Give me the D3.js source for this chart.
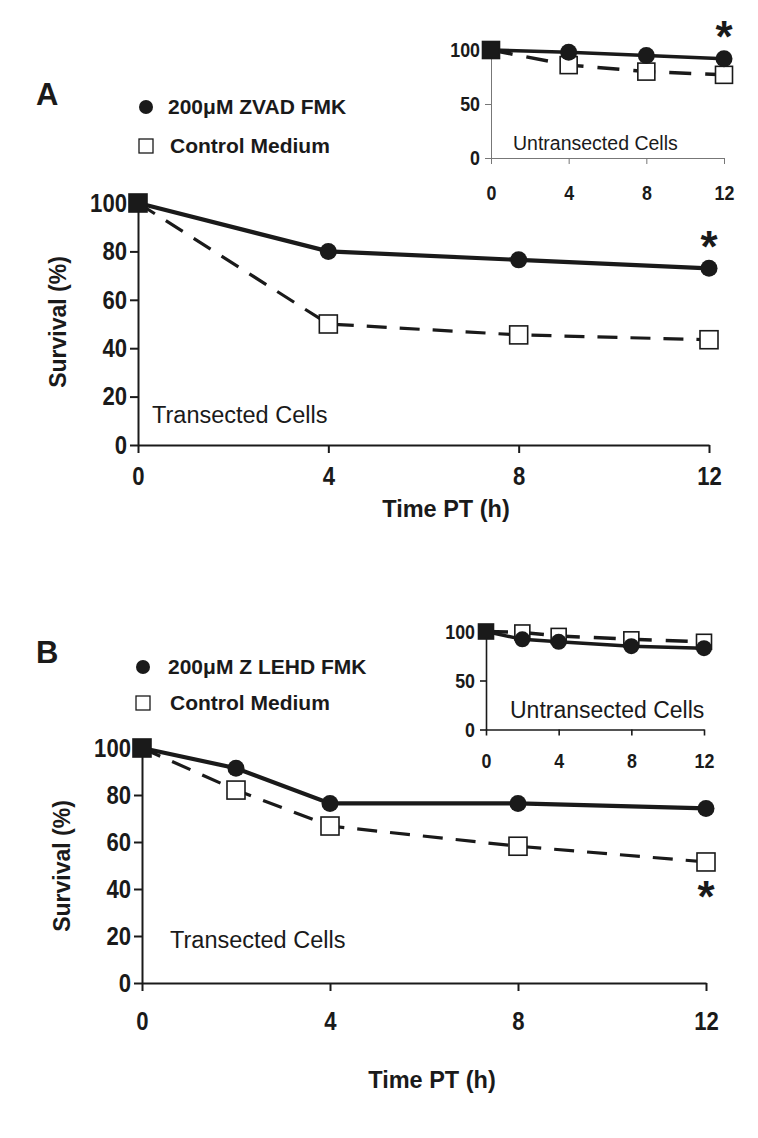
<!DOCTYPE html>
<html><head><meta charset="utf-8">
<script src="https://cdn.jsdelivr.net/npm/d3@7"></script>
<style>
body{margin:0;background:#fff;}
svg text{fill:#1a1a1a;}
</style>
</head><body>
<svg id="c" width="758" height="1138"></svg>
<script>
// ---- data ----
const hoursA = [0, 4, 8, 12];
const zvadMainA = [100, 80, 76.5, 73];
const controlMainA = [100, 50, 45.5, 43.5];
const zvadInsetA = [100, 98, 95, 92];
const controlInsetA = [100, 86, 80, 77];

const hoursB = [0, 2, 4, 8, 12];
const lehdMainB = [100, 91.4, 76.4, 76.4, 74.3];
const controlMainB = [100, 82.1, 66.8, 58.2, 51.5];
const lehdInsetB = [100, 92, 89.5, 85, 83];
const controlInsetB = [100, 99, 95.5, 92, 89.5];

const xTicks = [0, 4, 8, 12];
const yTicksMain = [0, 20, 40, 60, 80, 100];
const yTicksInset = [0, 50, 100];
const legendA = ["200\u03bcM ZVAD FMK", "Control Medium"];
const legendB = ["200\u03bcM Z LEHD FMK", "Control Medium"];

const svg = d3.select("#c");
const SANS = "'Liberation Sans', Arial, sans-serif";

function compress(sel, k) {
  sel.each(function () {
    const w = this.getComputedTextLength();
    d3.select(this).attr("textLength", w * k).attr("lengthAdjust", "spacingAndGlyphs");
  });
}

function panel(o) {
  const x = d3.scaleLinear().domain([0, 12]).range(o.xr);
  const y = d3.scaleLinear().domain([0, 100]).range(o.yr);
  const g = svg.append("g");
  const ax = g.append("g").attr("transform", `translate(0,${o.yr[0]})`)
    .call(d3.axisBottom(x).tickValues(xTicks).tickSize(o.tick).tickSizeOuter(0).tickPadding(o.xpad));
  const ay = g.append("g").attr("transform", `translate(${o.xr[0]},0)`)
    .call(d3.axisLeft(y).tickValues(o.yticks).tickSize(o.tick).tickSizeOuter(0).tickPadding(o.ypad));
  [ax, ay].forEach(a => {
    a.selectAll("path,line").attr("stroke", o.axisColor).attr("stroke-width", o.axisW);
    const t = a.selectAll("text").attr("font-family", SANS).attr("font-weight", "bold")
      .attr("font-size", o.fs).attr("fill", "#1a1a1a");
    compress(t, 0.85);
  });
  const line = d3.line().x(d => x(d[0])).y(d => y(d[1]));
  const ctrl = o.hours.map((h, i) => [h, o.ctrl[i]]);
  const trt = o.hours.map((h, i) => [h, o.trt[i]]);
  g.append("path").attr("d", line(ctrl)).attr("fill", "none").attr("stroke", "#1a1a1a")
    .attr("stroke-width", o.dashW).attr("stroke-dasharray", o.dash);
  g.append("path").attr("d", line(trt)).attr("fill", "none").attr("stroke", "#1a1a1a")
    .attr("stroke-width", o.solidW);
  const s = o.sq;
  g.selectAll("rect.m").data(ctrl).enter().append("rect")
    .attr("x", d => x(d[0]) - s / 2).attr("y", d => y(d[1]) - s / 2)
    .attr("width", s).attr("height", s)
    .attr("fill", (d, i) => i === 0 ? "#1a1a1a" : "#fff").attr("stroke", "#1a1a1a").attr("stroke-width", 1.6);
  g.selectAll("circle.m").data(trt.slice(1)).enter().append("circle")
    .attr("cx", d => x(d[0])).attr("cy", d => y(d[1])).attr("r", o.r).attr("fill", "#1a1a1a");
  return {x, y, g};
}

function star(g, x, y) {
  g.append("text").attr("x", x).attr("y", y).attr("text-anchor", "middle")
    .attr("font-family", SANS).attr("font-weight", "bold").attr("font-size", 44).text("*");
}

// ---- Panel A main ----
const A = panel({xr: [138, 709], yr: [445, 203], hours: hoursA, trt: zvadMainA, ctrl: controlMainA,
  yticks: yTicksMain, tick: 8, xpad: 14, ypad: 3, fs: 26, axisColor: "#1a1a1a", axisW: 2,
  dashW: 3.2, dash: "20,13", solidW: 4.2, sq: 18, r: 8.5});
A.g.append("text").attr("x", 152).attr("y", 423).attr("font-family", SANS).attr("font-size", 23.5).text("Transected Cells");
star(A.g, A.x(12), 262);

// ---- Panel A inset ----
const AI = panel({xr: [491, 724], yr: [158, 50], hours: hoursA, trt: zvadInsetA, ctrl: controlInsetA,
  yticks: yTicksInset, tick: 6, xpad: 21, ypad: 5, fs: 21, axisColor: "#777", axisW: 1,
  dashW: 3.5, dash: "22,14", solidW: 3.5, sq: 17, r: 8.5});
AI.g.append("text").attr("x", 513).attr("y", 150).attr("font-family", SANS).attr("font-size", 19.5).text("Untransected Cells");
star(AI.g, AI.x(12), 52);

// ---- Panel B main ----
const B = panel({xr: [142, 706], yr: [983, 748], hours: hoursB, trt: lehdMainB, ctrl: controlMainB,
  yticks: yTicksMain, tick: 8, xpad: 21, ypad: 3, fs: 26, axisColor: "#1a1a1a", axisW: 2,
  dashW: 3.2, dash: "20,13", solidW: 4.2, sq: 18, r: 8.5});
B.g.append("text").attr("x", 170).attr("y", 948).attr("font-family", SANS).attr("font-size", 23.5).text("Transected Cells");
star(B.g, B.x(12), 912);

// ---- Panel B inset ----
const BI = panel({xr: [486, 704], yr: [729.5, 631.5], hours: hoursB, trt: lehdInsetB, ctrl: controlInsetB,
  yticks: yTicksInset, tick: 6, xpad: 18, ypad: 5, fs: 21, axisColor: "#1a1a1a", axisW: 1.6,
  dashW: 3.5, dash: "22,14", solidW: 3.5, sq: 15, r: 8});
BI.g.append("text").attr("x", 510).attr("y", 718).attr("font-family", SANS).attr("font-size", 23).text("Untransected Cells");

// ---- axis titles ----
function titles(cx, ty, yx, cy) {
  svg.append("text").attr("x", cx).attr("y", ty).attr("text-anchor", "middle")
    .attr("font-family", SANS).attr("font-weight", "bold").attr("font-size", 23.5).text("Time PT (h)");
  svg.append("text").attr("transform", `translate(${yx},${cy}) rotate(-90)`).attr("text-anchor", "middle")
    .attr("font-family", SANS).attr("font-weight", "bold").attr("font-size", 23).text("Survival (%)");
}
titles(446, 517, 66, 322);
titles(432, 1088, 70, 866);

// ---- letters and legends ----
function legend(letterY, labels, letter, cy1, cy2, mx) {
  svg.append("text").attr("x", 36).attr("y", letterY).attr("font-family", SANS).attr("font-weight", "bold")
    .attr("font-size", 31).text(letter);
  svg.append("circle").attr("cx", mx).attr("cy", cy1).attr("r", 7).attr("fill", "#1a1a1a");
  svg.append("rect").attr("x", mx - 7).attr("y", cy2 - 7).attr("width", 14).attr("height", 14)
    .attr("fill", "#fff").attr("stroke", "#1a1a1a").attr("stroke-width", 1.3);
  [cy1, cy2].forEach((cy, i) => {
    svg.append("text").attr("x", 168 + (i ? 2 : 0)).attr("y", cy + 7).attr("font-family", SANS)
      .attr("font-weight", "bold").attr("font-size", 21).text(labels[i]);
  });
}
legend(105, legendA, "A", 107, 146, 146);
legend(663, legendB, "B", 667, 703, 143);
</script>
</body></html>
